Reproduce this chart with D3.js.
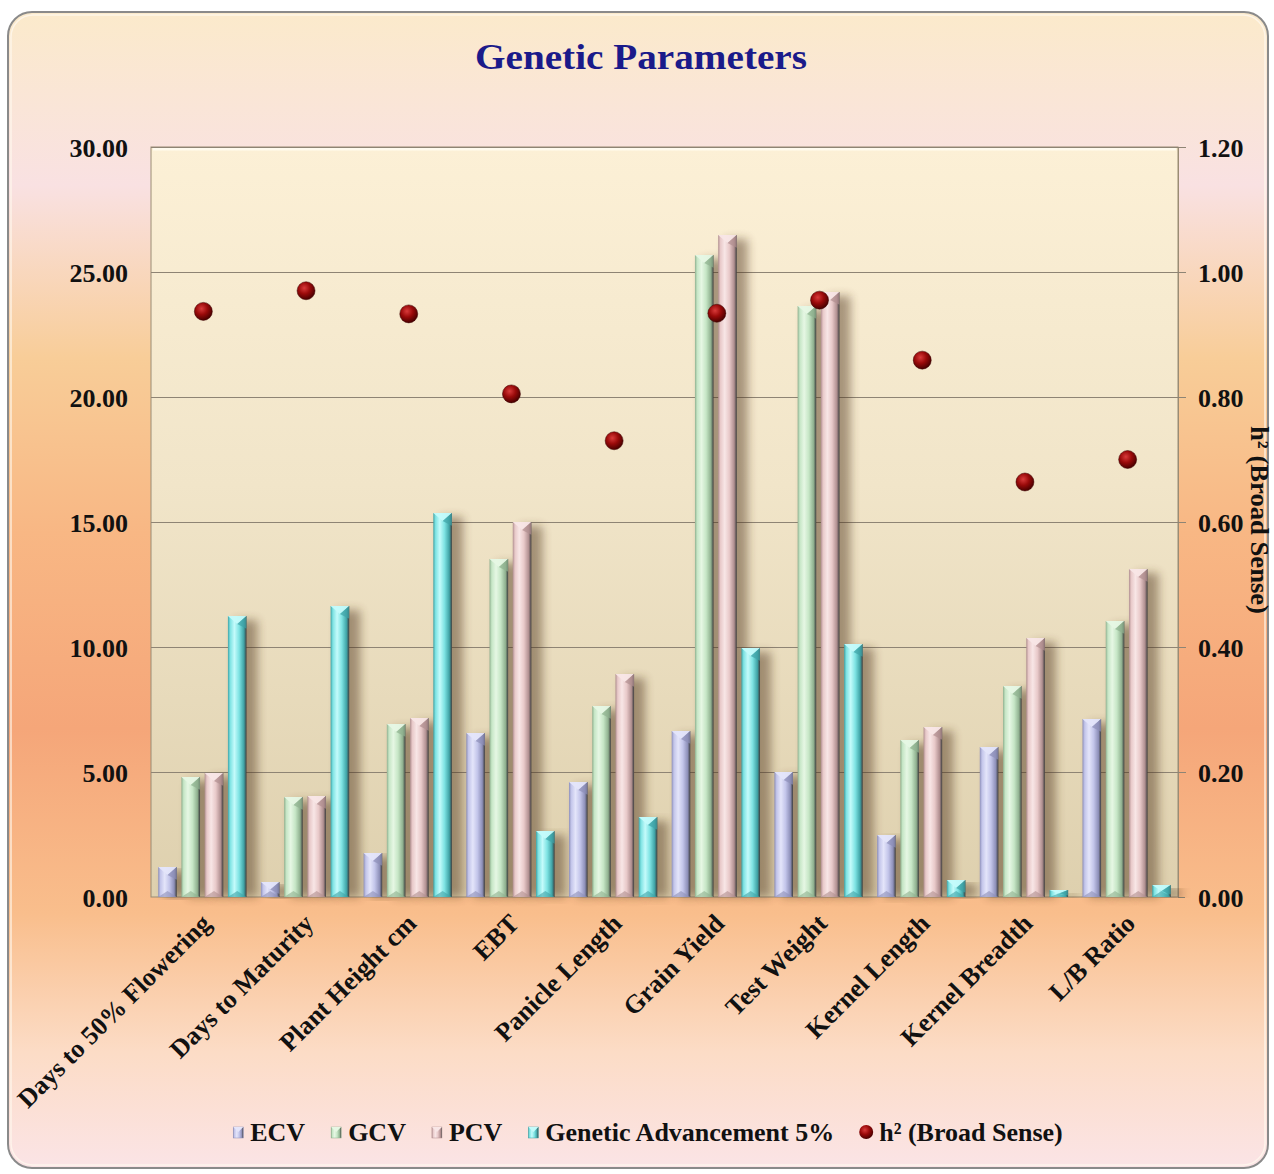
<!DOCTYPE html>
<html><head><meta charset="utf-8">
<script src="https://cdn.jsdelivr.net/npm/d3@7"></script>
<style>body{margin:0;background:#fff}svg{display:block}text{font-family:"Liberation Serif","Times New Roman",serif;font-weight:bold}</style>
</head><body><svg id="c" width="1274" height="1174"></svg>
<script>
const categories = ["Days to 50% Flowering","Days to Maturity","Plant Height cm","EBT","Panicle Length","Grain Yield","Test Weight","Kernel Length","Kernel Breadth","L/B Ratio"];
const ecv = [1.20,0.60,1.76,6.56,4.60,6.64,5.00,2.48,6.00,7.12];
const gcv = [4.80,4.00,6.92,13.52,7.64,25.68,23.64,6.28,8.44,11.04];
const pcv = [4.96,4.04,7.16,15.00,8.92,26.48,24.20,6.80,10.36,13.12];
const ga  = [11.24,11.64,15.36,2.64,3.20,9.96,10.12,0.68,0.28,0.48];
const h2  = [0.937,0.970,0.933,0.805,0.730,0.934,0.955,0.859,0.664,0.700];
const seriesNames = ["ECV","GCV","PCV","Genetic Advancement 5%"];
const lineName = "h\u00B2 (Broad Sense)";
const leftTicks = [0,5,10,15,20,25,30];
const rightTicks = [0,0.2,0.4,0.6,0.8,1.0,1.2];
const colors = [
  {base:"#c3c5ea", light:"#e4e5fa", dark:"#8d8fb8"},
  {base:"#c6e6c6", light:"#e6f7e4", dark:"#8fb08f"},
  {base:"#e8c9c9", light:"#f8e6e6", dark:"#b08f90"},
  {base:"#7ee3e3", light:"#c4fbfb", dark:"#3fa3a6"}
];

const svg = d3.select("#c");
const defs = svg.append("defs");
const m = {l:151, r:1178, t:147, b:897};

// backgrounds
const bg = defs.append("linearGradient").attr("id","bg").attr("x1",0).attr("y1",0).attr("x2",0).attr("y2",1);
[[0,"#fbeacb"],[0.15,"#f9e1e2"],[0.3,"#f8cd98"],[0.45,"#f8b784"],[0.62,"#f5a679"],[0.78,"#f9be8c"],[0.9,"#fcdcc6"],[1,"#fbe4e6"]]
  .forEach(s=>bg.append("stop").attr("offset",s[0]).attr("stop-color",s[1]));
const pg = defs.append("linearGradient").attr("id","pg").attr("x1",0).attr("y1",0).attr("x2",0).attr("y2",1);
[[0,"#fcf0d6"],[0.45,"#f1e5c9"],[1,"#ded0ae"]].forEach(s=>pg.append("stop").attr("offset",s[0]).attr("stop-color",s[1]));

colors.forEach((c,i)=>{
  const g = defs.append("linearGradient").attr("id","bar"+i).attr("x1",0).attr("y1",0).attr("x2",1).attr("y2",0);
  [[0,c.dark],[0.12,c.base],[0.35,c.light],[0.6,c.base],[0.86,c.dark],[1,"#3e3e3e"]].forEach(s=>g.append("stop").attr("offset",s[0]).attr("stop-color",s[1]));
});
const rg = defs.append("radialGradient").attr("id","dot").attr("cx","40%").attr("cy","35%").attr("r","65%");
[[0,"#d83a3a"],[0.5,"#9a0a0a"],[1,"#4a0000"]].forEach(s=>rg.append("stop").attr("offset",s[0]).attr("stop-color",s[1]));
const blur = defs.append("filter").attr("id","sh").attr("x","-50%").attr("y","-10%").attr("width","200%").attr("height","120%");
blur.append("feGaussianBlur").attr("stdDeviation",5);

svg.append("rect").attr("x",8).attr("y",12).attr("width",1260).attr("height",1156).attr("rx",24)
  .attr("fill","url(#bg)").attr("stroke","#8a8a8a").attr("stroke-width",2);
svg.append("rect").attr("x",11).attr("y",15).attr("width",1254).attr("height",1150).attr("rx",22)
  .attr("fill","none").attr("stroke","#fff8ee").attr("stroke-width",1.5).attr("opacity",0.8);

// title
svg.append("text").attr("x",641).attr("y",69).attr("text-anchor","middle").attr("font-size",36)
  .attr("textLength",332).attr("lengthAdjust","spacingAndGlyphs")
  .attr("fill","#1a1a8a").text("Genetic Parameters");

// scales
const x0 = d3.scaleBand().domain(categories).range([m.l,m.r]).paddingInner(0.14).paddingOuter(0.07);
const x1 = d3.scaleBand().domain(seriesNames).range([0,x0.bandwidth()]).paddingInner(0.2).paddingOuter(0);
const y = d3.scaleLinear().domain([0,30]).range([m.b,m.t]);
const y2 = d3.scaleLinear().domain([0,1.2]).range([m.b,m.t]);
const cx = c => x0(c) + x0.bandwidth()/2;

// plot area
svg.append("rect").attr("x",m.l).attr("y",m.t).attr("width",m.r-m.l).attr("height",m.b-m.t)
  .attr("fill","url(#pg)").attr("stroke","#9a8c74").attr("stroke-width",1);
svg.append("path").attr("d",`M${m.l+2},${m.t+2}H${m.r-2}`).attr("stroke","#fffbee").attr("stroke-width",3);

// gridlines via axis
const gridAx = d3.axisRight(y).tickValues(leftTicks.slice(1)).tickSize(-(m.r-m.l)).tickFormat("");
const gg = svg.append("g").attr("transform",`translate(${m.r+8},0)`).call(gridAx);
gg.select(".domain").remove();
gg.selectAll("line").attr("x2",-(m.r-m.l)-8).attr("stroke","#8e8474").attr("stroke-width",1.2);

// left axis labels
const la = svg.append("g").attr("transform",`translate(128,0)`).call(d3.axisLeft(y).tickValues(leftTicks).tickSize(0).tickFormat(d3.format(".2f")));
la.select(".domain").remove();
la.selectAll("text").attr("font-size",26).attr("fill","#111").attr("dy","0.35em").attr("x",0);

// right axis
const ra = svg.append("g").attr("transform",`translate(${m.r},0)`).call(d3.axisRight(y2).tickValues(rightTicks).tickSize(7).tickFormat(d3.format(".2f")));
ra.select(".domain").attr("stroke","#9a8c74");
ra.selectAll("line").attr("stroke","#8e8474");
ra.selectAll("text").attr("font-size",26).attr("fill","#111").attr("x",20).attr("dy","0.35em");
svg.append("text").attr("transform",`translate(1251,520) rotate(90)`).attr("text-anchor","middle")
  .attr("font-size",25).attr("textLength",188).attr("lengthAdjust","spacingAndGlyphs")
  .attr("fill","#111").text(lineName);

// bars
const allSeries = [ecv,gcv,pcv,ga];
const barData = [];
categories.forEach((c,ci)=>allSeries.forEach((s,si)=>barData.push({c,si,v:s[ci]})));
const bw = x1.bandwidth();
const bx = d => x0(d.c)+x1(seriesNames[d.si]);
const bars = svg.append("g");
bars.selectAll("rect.sh").data(barData).join("rect").attr("class","sh")
  .attr("x",d=>bx(d)+7).attr("y",d=>y(d.v)+4)
  .attr("width",bw+4).attr("height",d=>m.b-y(d.v)-4)
  .attr("fill","#4a2e18").attr("opacity",0.45).attr("filter","url(#sh)");
const bg2 = bars.selectAll("g.b").data(barData).join("g").attr("class","b");
bg2.append("rect").attr("x",bx).attr("y",d=>y(d.v))
  .attr("width",bw).attr("height",d=>m.b-y(d.v)).attr("fill",d=>`url(#bar${d.si})`);
bg2.append("path").attr("d",d=>{
  const xl=bx(d), xr=xl+bw, yt=y(d.v), h=Math.min(8,(m.b-yt)/2);
  return `M${xl},${yt}L${xr},${yt}L${xl+bw/2},${yt+h}Z`;
}).attr("fill",d=>colors[d.si].light).attr("opacity",0.95);
bg2.append("path").attr("d",d=>{
  const xl=bx(d), xr=xl+bw, yt=y(d.v), h=Math.min(8,(m.b-yt)/2);
  return `M${xr},${yt}L${xl+bw/2},${yt+h}L${xr},${yt+h*1.6}Z`;
}).attr("fill",d=>colors[d.si].dark).attr("opacity",0.7);
bg2.append("path").attr("d",d=>{
  const xl=bx(d), xr=xl+bw, h=Math.min(6,(m.b-y(d.v))/2);
  return `M${xl},${m.b}L${xr},${m.b}L${xl+bw/2},${m.b-h}Z`;
}).attr("fill",d=>colors[d.si].dark).attr("opacity",0.6);

// h2 dots
svg.append("g").selectAll("circle").data(categories).join("circle")
  .attr("cx",c=>cx(c)+1).attr("cy",(c,i)=>y2(h2[i])).attr("r",9)
  .attr("fill","url(#dot)").attr("stroke","#3a0000").attr("stroke-width",0.5);

// x labels
const xa = svg.append("g").attr("transform",`translate(0,${m.b})`).call(d3.axisBottom(x0).tickSize(0));
xa.select(".domain").remove();
xa.selectAll("text").attr("font-size",26).attr("fill","#111").attr("text-anchor","end")
  .attr("dy",0).attr("y",0)
  .attr("transform","translate(10,28) rotate(-45)");

// legend
const lg = svg.append("g");
let lx = 0;
const items = seriesNames.map((n,i)=>({n,i})).concat([{n:lineName,i:-1}]);
items.forEach(it=>{
  const g = lg.append("g").attr("transform",`translate(${lx},0)`);
  if(it.i>=0){
    g.append("rect").attr("x",0).attr("y",-6).attr("width",10).attr("height",11).attr("fill",`url(#bar${it.i})`).attr("stroke",colors[it.i].dark).attr("stroke-width",0.5);
    g.append("path").attr("d","M0,-6L10,-6L5,-1Z").attr("fill",colors[it.i].light);
  } else {
    g.append("circle").attr("cx",6).attr("cy",-1).attr("r",7).attr("fill","url(#dot)");
  }
  const t = g.append("text").attr("x",it.i>=0?17:19).attr("y",8).attr("font-size",26).attr("fill","#111").text(it.n);
  lx += (it.i>=0?17:19) + t.node().getComputedTextLength() + 26;
});
const total = lx-26;
lg.attr("transform",`translate(${648-total/2},1133)`);
</script></body></html>
